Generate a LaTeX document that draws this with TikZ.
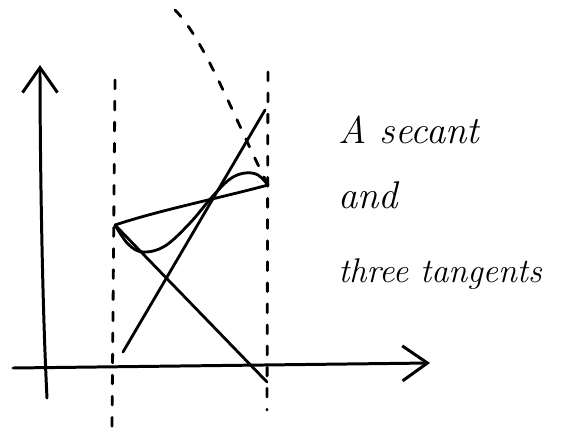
\documentclass[tikz,border=0pt]{standalone}
\usetikzlibrary{arrows.meta}

\begin{document}
\begin{tikzpicture}[
    x=0.02cm, y=-0.02cm,
    axis/.style={line width=1.7pt, line cap=round, -{Straight Barb[length=5mm, width=7mm, line width=1.7pt]}},
    guide/.style={line width=1.6pt, dash pattern=on 5pt off 7pt, line cap=round},
    pen/.style={line width=1.6pt, line cap=round},
    hand/.style={font=\fontsize{22}{26}\selectfont\itshape, inner sep=0pt, anchor=base west}
]
\useasboundingbox (0,0) rectangle (564,436);

% Axes
\coordinate (o) at (47,398);
\coordinate (ytop) at (40,65);
\coordinate (xl) at (13,368);
\coordinate (xr) at (430,363);
\draw[axis] (o) .. controls (42,300) and (40,150) .. (ytop);
\draw[axis] (xl) -- (xr);

% Interval ends
\coordinate (lt) at (115,80);
\coordinate (lb) at (112,427);
\coordinate (rt) at (268,72);
\coordinate (rb) at (267,410);
\draw[guide] (lt) -- (lb);
\draw[guide] (rt) -- (rb);

% Curve and secant
\coordinate (p) at (115,225);
\coordinate (q) at (268,185);
\draw[pen] plot[smooth, tension=0.6] coordinates {(115,225) (128,244) (143,252) (165,246) (190,223) (212,197) (230,179) (245,173) (258,175) (268,185)};
\draw[pen] (p) .. controls (160,210) and (220,198) .. (q);

% Tangents
\coordinate (t1) at (267,382);
\coordinate (s1) at (123,352);
\coordinate (s2) at (265,110);
\coordinate (d1) at (175,10);
\draw[pen] (p) -- (t1);
\draw[pen] (s1) -- (s2);
\draw[guide] (d1) .. controls (205,40) and (235,120) .. (q);

% Caption
\node[hand] (cap1) at (338,143) {A secant};
\node[hand] (cap2) at (338,208) {and};
\node[hand, font=\fontsize{19.5}{24}\selectfont\itshape] (cap3) at (338,282) {three tangents};

\end{tikzpicture}
\end{document}
